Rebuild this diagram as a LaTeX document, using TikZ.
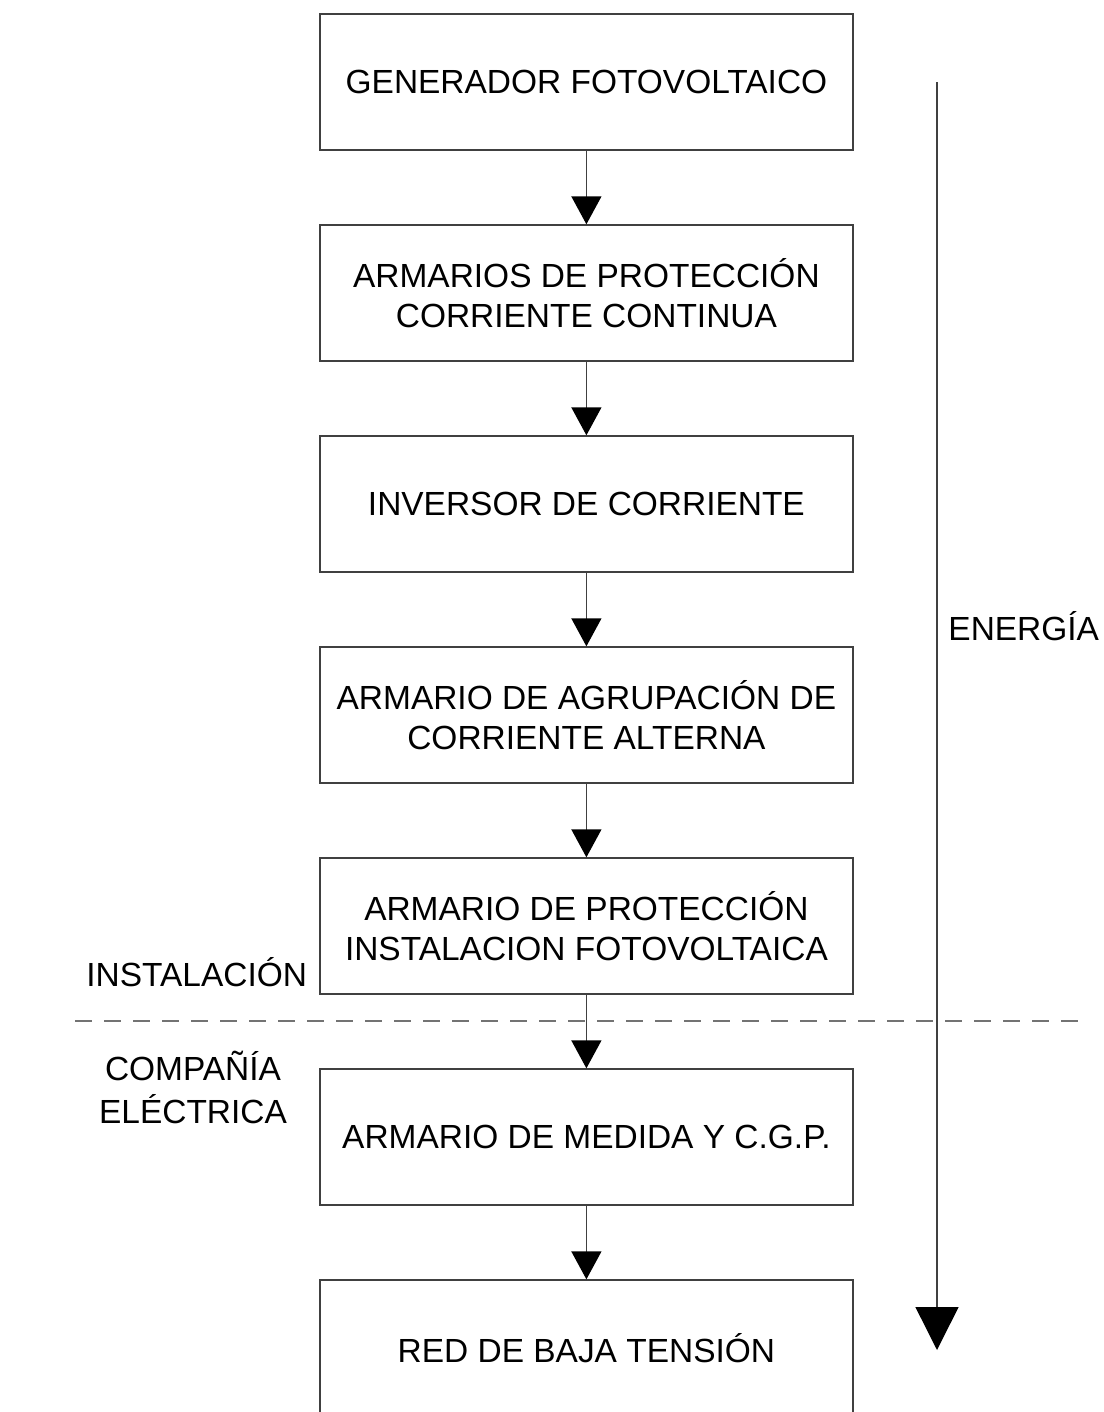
\documentclass[tikz,border=0pt]{standalone}
\usepackage{fontspec}
\setmainfont{Liberation Sans}
\usepackage{tikz}
\usetikzlibrary{arrows.meta,positioning}

\begin{document}
\begin{tikzpicture}[
	bloque/.style={draw=black!75, line width=1pt, minimum width=13.325cm, minimum height=3.4cm, align=center, font=\fontsize{23.8}{28.5}\selectfont},
	flecha/.style={draw=black!75, line width=1pt, -{Triangle[width=0.75cm,length=0.7cm,black]}},
	etiqueta/.style={align=center, font=\fontsize{23.8}{30.6}\selectfont},
	node distance=1.84cm]
	\useasboundingbox (0,0) rectangle (27.6,-35.3);
	% cadena de la instalacion
	\node[bloque] (gen) at (14.66,-2.05) {GENERADOR FOTOVOLTAICO};
	\node[bloque, below=of gen] (cc) {ARMARIOS DE PROTECCIÓN\\CORRIENTE CONTINUA};
	\node[bloque, below=of cc] (inv) {INVERSOR DE CORRIENTE};
	\node[bloque, below=of inv] (ca) {ARMARIO DE AGRUPACIÓN DE\\CORRIENTE ALTERNA};
	\node[bloque, below=of ca] (prot) {ARMARIO DE PROTECCIÓN\\INSTALACION FOTOVOLTAICA};
	\node[bloque, below=of prot] (med) {ARMARIO DE MEDIDA Y C.G.P.};
	\node[bloque, below=of med] (red) {RED DE BAJA TENSIÓN};
	\draw[flecha] (gen) -- (cc);
	\draw[flecha] (cc) -- (inv);
	\draw[flecha] (inv) -- (ca);
	\draw[flecha] (ca) -- (prot);
	\draw[flecha] (prot) -- (med);
	\draw[flecha] (med) -- (red);
	% flujo de energia
	\coordinate (eIni) at (23.425,-2.05);
	\coordinate (eFin) at (23.425,-33.75);
	\draw[draw=black!75, line width=1pt, -{Triangle[width=1.075cm,length=1.075cm,black]}] (eIni) -- (eFin);
	\node[etiqueta, anchor=east] (energia) at (27.6,-15.65) {ENERGÍA};
	% limite instalacion / compania
	\coordinate (lIzq) at (1.875,-25.525);
	\coordinate (lDer) at (27.0,-25.525);
	\draw[black!55, line width=0.8pt, dash pattern=on 0.425cm off 0.3cm] (lIzq) -- (lDer);
	\node[etiqueta, anchor=east] (inst) at (7.8,-24.3) {INSTALACIÓN};
	\node[etiqueta] (comp) at (4.825,-27.18) {COMPAÑÍA\\ELÉCTRICA};
\end{tikzpicture}
\end{document}
